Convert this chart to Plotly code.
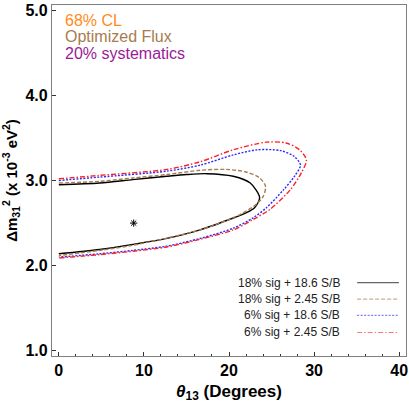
import plotly.graph_objects as go

# ---- data (theta13 in degrees, dm31^2 in 1e-3 eV^2) ----
theta_18_186 = [0, 4.8, 8.7, 12.7, 15, 17.4, 20.5, 22.5, 23.6, 23.0, 22.0, 20.5, 16.6, 12.7, 8.7, 4.8, 0]
dm_18_186 = [2.95, 2.97, 3.01, 3.05, 3.07, 3.08, 3.05, 2.97, 2.80, 2.68, 2.62, 2.56, 2.42, 2.32, 2.25, 2.19, 2.14]

theta_18_245 = [0, 4.8, 8.7, 12.7, 16.6, 19.7, 22.0, 23.6, 24.3, 24.0, 23.2, 21.3, 16.6, 8.7, 4.8, 0]
dm_18_245 = [2.97, 2.99, 3.03, 3.07, 3.12, 3.13, 3.10, 3.03, 2.93, 2.81, 2.72, 2.60, 2.42, 2.24, 2.18, 2.12]

theta_6_186 = [0, 4.8, 12.7, 16.6, 20.5, 23.3, 26.1, 27.7, 28.4, 27.7, 26.4, 24.4, 22.8, 20.5, 16.6, 12.7, 8.7, 4.8, 0]
dm_6_186 = [3.00, 3.04, 3.11, 3.18, 3.30, 3.36, 3.35, 3.28, 3.18, 3.05, 2.89, 2.68, 2.56, 2.44, 2.32, 2.23, 2.18, 2.14, 2.10]

theta_6_245 = [0, 4.8, 12.7, 16.6, 20.5, 24.4, 26.7, 28.3, 29.1, 28.5, 27.2, 24.8, 22.8, 20.5, 16.6, 12.7, 8.7, 4.8, 0]
dm_6_245 = [3.02, 3.06, 3.13, 3.22, 3.36, 3.45, 3.44, 3.36, 3.24, 3.09, 2.89, 2.66, 2.54, 2.42, 2.31, 2.22, 2.17, 2.13, 2.09]

best_fit_theta = [8.8]
best_fit_dm = [2.5]

labels = ["18% sig + 18.6 S/B", "18% sig + 2.45 S/B", "6% sig + 18.6 S/B", "6% sig + 2.45 S/B"]
curves = [(theta_18_186, dm_18_186), (theta_18_245, dm_18_245),
          (theta_6_186, dm_6_186), (theta_6_245, dm_6_245)]
colors = ["#000000", "#a87b4f", "#2b2bff", "#ff2020"]
dashes = ["solid", "4px,2px", "2px,1.5px", "5px,2px,1.5px,2px"]

info_lines = ["68% CL", "Optimized Flux", "20% systematics"]
info_colors = ["#ff8c1a", "#a87b4f", "#9a1a9a"]

FONT = "Liberation Sans, Arial, sans-serif"

fig = go.Figure()
for (x, y), name, c, d in zip(curves, labels, colors, dashes):
    fig.add_trace(go.Scatter(
        x=x, y=y, mode="lines", name=name,
        line=dict(color=c, width=1.4, dash=d, shape="spline", smoothing=0.8),
        showlegend=False,
    ))

fig.add_trace(go.Scatter(
    x=best_fit_theta, y=best_fit_dm, mode="markers", showlegend=False,
    marker=dict(symbol="asterisk-open", size=6, color="black",
                line=dict(color="black", width=1)),
))

# upper-left info text
for i, (t, c) in enumerate(zip(info_lines, info_colors)):
    fig.add_annotation(x=0.031, y=0.957 - i * 0.047, xref="paper", yref="paper",
                       text=t, showarrow=False, xanchor="left", yanchor="middle",
                       font=dict(family=FONT, size=16, color=c))

# hand-drawn legend: text on the left, line sample on the right
row_y = [0.209, 0.162, 0.116, 0.067]
for ry, name, c, d in zip(row_y, labels, colors, dashes):
    fig.add_annotation(x=0.819, y=ry, xref="paper", yref="paper", text=name,
                       showarrow=False, xanchor="right", yanchor="middle",
                       font=dict(family=FONT, size=12, color="#222"))
    fig.add_shape(type="line", xref="paper", yref="paper",
                  x0=0.862, x1=0.980, y0=ry, y1=ry,
                  line=dict(color=c, width=1.2, dash=d),
                  opacity=0.6)

fig.update_xaxes(
    range=[-0.8, 40.8], tickvals=[0, 10, 20, 30, 40],
    ticks="inside", ticklen=4, tickcolor="#333",
    minor=dict(dtick=2, ticks="inside", ticklen=2, tickcolor="#333"),
    showline=True, linecolor="#808080", linewidth=1.2, mirror=True,
    showgrid=False, zeroline=False, automargin=False,
    ticklabeloverflow="allow",
    tickfont=dict(family=FONT, size=16, color="black", weight="bold"),
    title=dict(text="<i>θ</i><sub>13</sub> (Degrees)", standoff=6,
               font=dict(family=FONT, size=17, color="black", weight="bold")),
)
fig.update_yaxes(
    range=[0.94, 5.06], tickvals=[1, 2, 3, 4, 5], tickformat=".1f",
    ticks="inside", ticklen=4, tickcolor="#333",
    showline=True, linecolor="#808080", linewidth=1.2, mirror=True,
    showgrid=False, zeroline=False, automargin=False,
    tickfont=dict(family=FONT, size=16, color="black", weight="bold"),
    title=dict(text="Δm<sub>31</sub><sup>2</sup> (x 10<sup>-3</sup> eV<sup>2</sup>)", standoff=4,
               font=dict(family=FONT, size=15, color="black", weight="bold")),
)

fig.update_layout(
    width=409, height=409,
    margin=dict(l=52, r=3, t=5, b=53),
    paper_bgcolor="white", plot_bgcolor="white",
    font=dict(family=FONT),
)

fig.write_html("out.html", config={"displayModeBar": False},
               post_script="document.body.style.margin='0';")
